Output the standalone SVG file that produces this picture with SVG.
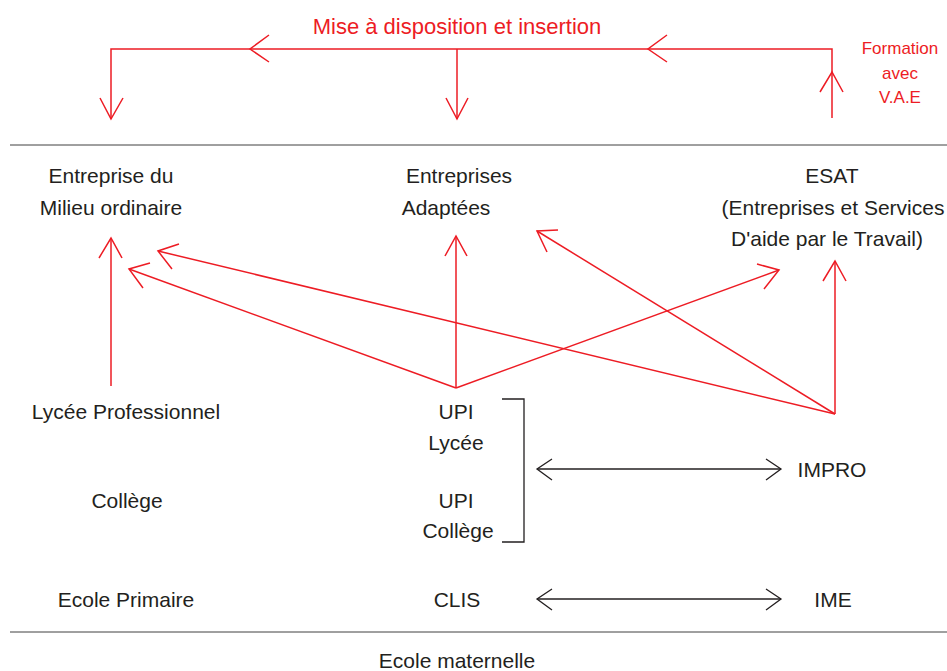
<svg xmlns="http://www.w3.org/2000/svg" width="947" height="671" viewBox="0 0 947 671">
<style>
.t{font-family:"Liberation Sans",Arial,sans-serif;font-size:21px;fill:#231f20;text-anchor:middle}
.r{font-family:"Liberation Sans",Arial,sans-serif;fill:#ed1c24;text-anchor:middle}
.rl{fill:none;stroke:#ed1c24;stroke-width:1.5}
.kl{fill:none;stroke:#231f20;stroke-width:1.3}
.sep{stroke:#404040;stroke-width:1}
</style>
<rect width="947" height="671" fill="#fff"/>
<g id="separators">
<line class="sep" x1="10" y1="145" x2="947" y2="145"/>
<line class="sep" x1="10" y1="632" x2="947" y2="632"/>
</g>
<g id="label-top"><text class="r" x="457" y="34" font-size="22">Mise à disposition et insertion</text></g>
<g id="label-vae"><text class="r" font-size="17"><tspan x="900" y="54">Formation</tspan><tspan x="900" y="79">avec</tspan><tspan x="900" y="103">V.A.E</tspan></text></g>
<g id="n-entreprise-milieu"><text class="t"><tspan x="111" y="183">Entreprise du</tspan><tspan x="111" y="215">Milieu ordinaire</tspan></text></g>
<g id="n-entreprises-adaptees"><text class="t"><tspan x="459" y="183">Entreprises</tspan><tspan x="446" y="215">Adaptées</tspan></text></g>
<g id="n-esat"><text class="t"><tspan x="832" y="183">ESAT</tspan><tspan x="833" y="215">(Entreprises et Services</tspan><tspan x="827" y="246">D'aide par le Travail)</tspan></text></g>
<g id="n-lycee-pro"><text class="t" x="126" y="419">Lycée Professionnel</text></g>
<g id="n-college"><text class="t" x="127" y="508">Collège</text></g>
<g id="n-ecole-primaire"><text class="t" x="126" y="607">Ecole Primaire</text></g>
<g id="n-upi-lycee"><text class="t"><tspan x="456" y="419">UPI</tspan><tspan x="456" y="450">Lycée</tspan></text></g>
<g id="n-upi-college"><text class="t"><tspan x="456" y="508">UPI</tspan><tspan x="458" y="538">Collège</tspan></text></g>
<g id="n-clis"><text class="t" x="457" y="607">CLIS</text></g>
<g id="n-impro"><text class="t" x="832" y="477">IMPRO</text></g>
<g id="n-ime"><text class="t" x="833" y="607">IME</text></g>
<g id="n-ecole-maternelle"><text class="t" x="457" y="668">Ecole maternelle</text></g>
<g id="connectors">
<!-- top red flow -->
<polyline class="rl" points="832,118 832,49 111,49 111,119"/>
<line class="rl" x1="457" y1="49" x2="457" y2="119"/>
<polyline class="rl" points="100,98 111,119 123,98"/>
<polyline class="rl" points="446,98 457,119 468,98"/>
<polyline class="rl" points="269,35 250,49 269,62"/>
<polyline class="rl" points="667,35 648,49 667,62"/>
<polyline class="rl" points="820,92 832,72 843,92"/>
<!-- lower red arrows -->
<line class="rl" x1="111" y1="386" x2="111" y2="238"/>
<polyline class="rl" points="99,258 111,238 122,258"/>
<line class="rl" x1="456" y1="388" x2="456" y2="236"/>
<polyline class="rl" points="445,256 456,236 467,256"/>
<line class="rl" x1="456" y1="388" x2="129" y2="269"/>
<polyline class="rl" points="150,263 129,269 143,288"/>
<line class="rl" x1="456" y1="388" x2="779" y2="270"/>
<polyline class="rl" points="757,264 779,270 764,289"/>
<line class="rl" x1="835" y1="414" x2="835" y2="261"/>
<polyline class="rl" points="823,281 835,261 846,281"/>
<line class="rl" x1="835" y1="414" x2="158" y2="251"/>
<polyline class="rl" points="179,244 158,251 172,269"/>
<line class="rl" x1="835" y1="414" x2="537" y2="231"/>
<polyline class="rl" points="558,230 537,231 547,252"/>
<!-- bracket -->
<polyline class="kl" points="502,399 524,399 524,542 502,542"/>
<!-- double arrows -->
<line class="kl" x1="537" y1="469" x2="781" y2="469"/>
<polyline class="kl" points="552,459 537,469 552,480"/>
<polyline class="kl" points="766,459 781,469 766,480"/>
<line class="kl" x1="537" y1="599" x2="781" y2="599"/>
<polyline class="kl" points="552,589 537,599 552,610"/>
<polyline class="kl" points="766,589 781,599 766,610"/>
</g>
</svg>
